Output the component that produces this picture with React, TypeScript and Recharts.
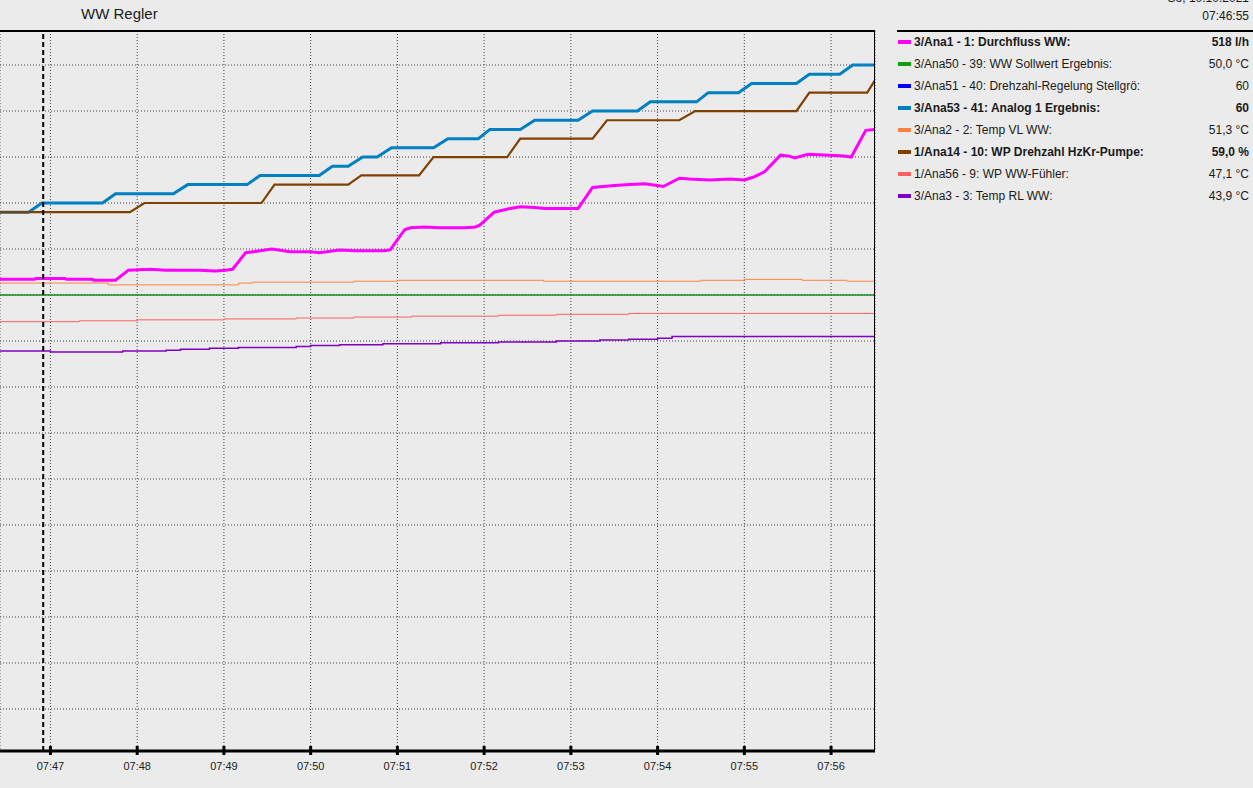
import React from 'react';
import { LineChart, Line, XAxis, YAxis, CartesianGrid, ReferenceLine } from 'recharts';

// time values are seconds after 07:46:00
const timeDomain: [number, number] = [25.1, 630.4];
const timeTicks = [60, 120, 180, 240, 300, 360, 420, 480, 540, 600];
const cursorTime = 55; // 07:46:55

// shared scale for %, °C (and l/h / 10)
const valueDomain: [number, number] = [0.43, 78.7];
const valueGrid = [5, 10, 15, 20, 25, 30, 35, 40, 45, 50, 55, 60, 65, 70, 75];

// 3/Ana1 Durchfluss WW (l/h)
const flowPoints: [number, number][] = [
  [25, 517], [49, 517], [50, 518], [70, 518], [71, 517], [89, 517], [90, 516], [105, 516],
  [114, 527], [129, 528], [140, 527], [163, 527], [174, 526], [181, 527], [186, 528],
  [195, 546], [205, 548], [213, 550], [226, 547], [240, 547], [246, 546], [260, 549],
  [271, 548], [291, 548], [295, 549], [305, 571], [309, 573], [319, 574], [329, 573],
  [347, 573], [354, 574], [357, 576], [367, 590], [378, 594], [385, 596], [395, 595],
  [402, 594], [425, 594], [435, 617], [450, 619], [461, 620], [471, 621], [480, 619],
  [484, 618], [495, 627], [502, 626], [516, 625], [530, 626], [540, 625], [546, 628],
  [554, 634], [565, 652], [571, 651], [575, 649], [584, 653], [599, 652], [609, 651],
  [614, 650], [624, 679], [631, 680],
];

// 3/Ana53 Analog 1 Ergebnis
const analogPoints: [number, number][] = [
  [25, 59], [45, 59], [54, 60], [96, 60], [105, 61], [145, 61], [155, 62], [196, 62],
  [205, 63], [246, 63], [255, 64], [266, 64], [276, 65], [286, 65], [296, 66], [325, 66],
  [335, 67], [356, 67], [364, 68], [385, 68], [395, 69], [425, 69], [435, 70], [466, 70],
  [475, 71], [507, 71], [515, 72], [536, 72], [545, 73], [576, 73], [585, 74], [606, 74],
  [615, 75], [631, 75],
];

// 1/Ana14 WP Drehzahl HzKr-Pumpe (%)
const pumpPoints: [number, number][] = [
  [25, 59], [115, 59], [125, 60], [206, 60], [215, 62], [266, 62], [275, 63], [315, 63],
  [325, 65], [376, 65], [385, 67], [435, 67], [445, 69], [495, 69], [506, 70], [576, 70],
  [585, 72], [625, 72], [631, 73.5],
];

// 3/Ana2 Temp VL WW (°C)
const vlPoints: [number, number][] = [
  [25, 51.3], [100, 51.1], [190, 51.3], [200, 51.4], [270, 51.5], [300, 51.6], [401, 51.5],
  [510, 51.6], [540, 51.7], [580, 51.6], [611, 51.5], [631, 51.5],
];

// 3/Ana50 WW Sollwert Ergebnis (°C)
const sollPoints: [number, number][] = [[25, 50], [631, 50]];

// 1/Ana56 WP WW-Fühler (°C)
const fuehlerPoints: [number, number][] = [
  [25, 47.1], [80, 47.2], [120, 47.3], [180, 47.4], [230, 47.5], [270, 47.6], [310, 47.7],
  [370, 47.8], [410, 47.9], [460, 48.0], [631, 48.0],
];

// 3/Ana3 Temp RL WW (°C)
const rlPoints: [number, number][] = [
  [25, 43.9], [60, 43.8], [110, 43.9], [140, 44.0], [150, 44.1], [170, 44.2], [190, 44.3],
  [230, 44.4], [240, 44.5], [260, 44.6], [290, 44.7], [330, 44.8], [370, 44.9], [410, 45.0],
  [440, 45.1], [460, 45.2], [480, 45.3], [490, 45.5], [631, 45.5],
];

const legendNames = [
  '3/Ana1 - 1: Durchfluss WW:',
  '3/Ana50 - 39: WW Sollwert Ergebnis:',
  '3/Ana51 - 40: Drehzahl-Regelung Stellgrö:',
  '3/Ana53 - 41: Analog 1 Ergebnis:',
  '3/Ana2 - 2: Temp VL WW:',
  '1/Ana14 - 10: WP Drehzahl HzKr-Pumpe:',
  '1/Ana56 - 9: WP WW-Fühler:',
  '3/Ana3 - 3: Temp RL WW:',
];
const legendValues = ['518 l/h', '50,0 °C', '60', '60', '51,3 °C', '59,0 %', '47,1 °C', '43,9 °C'];
const legendColors = ['#ff00ff', '#10a010', '#0000ff', '#0080c0', '#ff8040', '#804000', '#ff6060', '#8000c0'];
const legendBold = [true, false, false, true, false, true, false, false];

const toRows = (pts: [number, number][]) => pts.map(([t, v]) => ({ t, v }));

const font = '"Liberation Sans", Arial, sans-serif';

function fmtTime(t: number) {
  const m = 46 + Math.floor(t / 60);
  return `07:${String(m).padStart(2, '0')}`;
}

function TimeTick(props: any) {
  const { x, y, payload } = props;
  return (
    <g>
      <line x1={x} x2={x} y1={y - 5} y2={y + 4} stroke="#000" strokeWidth={3} />
      <text x={x} y={y + 19} textAnchor="middle" fontSize={11} fill="#222" fontFamily={font}>
        {fmtTime(payload.value)}
      </text>
    </g>
  );
}

export default function App() {
  return (
    <div
      style={{
        position: 'absolute', left: 0, top: 0, width: 1253, height: 788,
        background: '#ebebeb', overflow: 'hidden', fontFamily: font, color: '#1a1a1a',
      }}
    >
      <div style={{ position: 'absolute', left: 81, top: 5, fontSize: 15, lineHeight: '18px' }}>WW Regler</div>

      <LineChart
        width={876}
        height={788}
        margin={{ top: 31, right: 1, bottom: 7, left: 0 }}
        style={{ position: 'absolute', left: 0, top: 0 }}
      >
        <CartesianGrid horizontal={false} stroke="#444" strokeDasharray="1 2" />
        <XAxis
          dataKey="t"
          type="number"
          domain={timeDomain}
          ticks={timeTicks}
          allowDataOverflow
          height={30}
          tickSize={0}
          tickMargin={0}
          tickLine={false}
          axisLine={{ stroke: '#000', strokeWidth: 3 }}
          tick={<TimeTick />}
          interval={0}
        />
        <YAxis yAxisId="val" type="number" domain={valueDomain} allowDataOverflow hide width={0} />
        <YAxis yAxisId="flow" type="number" domain={[valueDomain[0] * 10, valueDomain[1] * 10]} allowDataOverflow hide width={0} />

        {valueGrid.map((v) => (
          <ReferenceLine key={v} yAxisId="val" y={v} stroke="#444" strokeDasharray="1 2" />
        ))}

        <Line yAxisId="val" data={toRows(sollPoints)} dataKey="v" type="stepAfter" stroke="#1a8c1a" strokeWidth={1.5} dot={false} isAnimationActive={false} />
        <Line yAxisId="val" data={toRows(vlPoints)} dataKey="v" type="stepAfter" stroke="#ff8040" strokeWidth={1} dot={false} isAnimationActive={false} />
        <Line yAxisId="val" data={toRows(fuehlerPoints)} dataKey="v" type="stepAfter" stroke="#ff6060" strokeWidth={1} dot={false} isAnimationActive={false} />
        <Line yAxisId="val" data={toRows(rlPoints)} dataKey="v" type="stepAfter" stroke="#8000c0" strokeWidth={1.5} dot={false} isAnimationActive={false} />
        <Line yAxisId="val" data={toRows(analogPoints)} dataKey="v" type="linear" stroke="#0080c0" strokeWidth={3} dot={false} isAnimationActive={false} />
        <Line yAxisId="val" data={toRows(pumpPoints)} dataKey="v" type="linear" stroke="#804000" strokeWidth={2.2} dot={false} isAnimationActive={false} />
        <Line yAxisId="flow" data={toRows(flowPoints)} dataKey="v" type="linear" stroke="#ff00ff" strokeWidth={3} dot={false} isAnimationActive={false} />

        <ReferenceLine yAxisId="val" x={cursorTime} stroke="#000" strokeWidth={2} strokeDasharray="5 3" />
      </LineChart>

      <div style={{ position: 'absolute', left: 0, top: 30, width: 875, height: 721, borderTop: '2px solid #000', borderRight: '1px solid #000', boxSizing: 'border-box', pointerEvents: 'none' }} />

      <div style={{ position: 'absolute', right: 4, top: -11, fontSize: 12, lineHeight: '18px' }}>So, 10.10.2021</div>
      <div style={{ position: 'absolute', right: 4, top: 7, fontSize: 12, lineHeight: '18px' }}>07:46:55</div>
      <div style={{ position: 'absolute', left: 897, top: 30, width: 356, borderTop: '2px solid #000' }} />
      <div style={{ position: 'absolute', left: 897, top: 31, width: 352 }}>
        {legendNames.map((name, i) => (
          <div key={name} style={{ height: 22, display: 'flex', alignItems: 'center', fontSize: 12, fontWeight: legendBold[i] ? 'bold' : 'normal' }}>
            <span style={{ width: 13, height: 4, background: legendColors[i], marginLeft: 1, marginRight: 3, flex: 'none' }} />
            <span style={{ flex: 1, whiteSpace: 'nowrap' }}>{name}</span>
            <span style={{ whiteSpace: 'nowrap' }}>{legendValues[i]}</span>
          </div>
        ))}
      </div>
    </div>
  );
}
